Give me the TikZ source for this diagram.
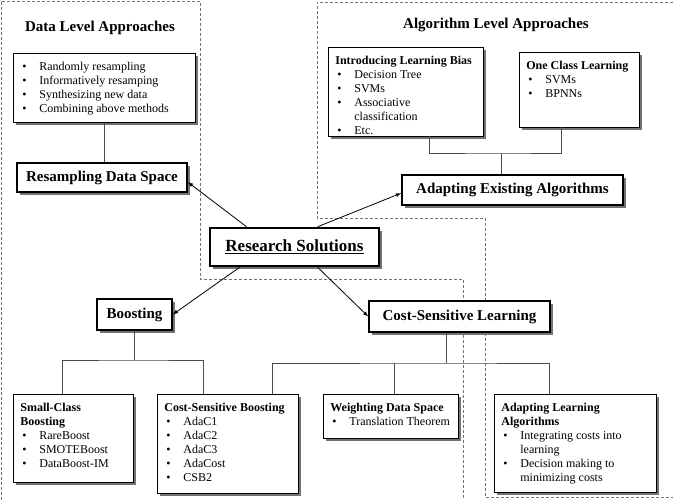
\documentclass[tikz,border=0pt]{standalone}
\usepackage{fontspec}
\setmainfont{Liberation Serif}
\usetikzlibrary{shadows,calc}

\newcommand{\itm}[1]{\par\hangindent=19pt\hangafter=1\noindent\makebox[19pt][l]{\hspace{2pt}\textbullet}#1}
\newcommand{\listtext}[3]{\parbox[t][#2][t]{#1}{\raggedright\vspace*{2.5pt}#3}}

\tikzset{
  shadowed/.style={drop shadow={shadow xshift=3pt, shadow yshift=-3pt, fill=black!55, opacity=1}},
  listbox/.style={draw, line width=0.8pt, fill=white, shadowed, anchor=north west,
    inner xsep=7pt, inner ysep=6pt, font=\fontsize{12}{14}\selectfont},
  mainbox/.style={draw, line width=1.6pt, fill=white, shadowed, inner sep=0pt,
    font=\bfseries\fontsize{15}{18}\selectfont},
  title/.style={font=\bfseries\fontsize{15}{18}\selectfont},
  region/.style={draw=black!55, line width=0.7pt, dash pattern=on 3pt off 2pt},
  branch/.style={draw=black!70, line width=0.7pt},
  link/.style={-latex, line width=0.8pt}
}

\begin{document}
\begin{tikzpicture}[x=1pt, y=-1pt]
    \useasboundingbox (0,0) rectangle (673,500);
    % dashed regions
    \draw[region] (1,500) -- (1,1) -- (200,1) -- (200,279) -- (463,279) -- (463,500);
    \draw[region] (673,2) -- (317,2) -- (317,218) -- (485,218) -- (485,497) -- (673,497);
    \node[title] (dlatitle) at (100,28) {Data Level Approaches};
    \node[title] (alatitle) at (496,25) {Algorithm Level Approaches};

    % data level
    \node[listbox] (rnd) at (13,53) {\listtext{168pt}{57pt}{%
        \itm{Randomly resampling}\itm{Informatively resamping}%
        \itm{Synthesizing new data}\itm{Combining above methods}}};
    \node[mainbox, minimum width=170, minimum height=29] (rds) at (102,177.5) {Resampling Data Space};

    % algorithm level
    \node[listbox] (ilb) at (328,47) {\listtext{141pt}{77pt}{%
        \textbf{Introducing Learning Bias}\itm{Decision Tree}\itm{SVMs}%
        \itm{Associative\newline classification}\itm{Etc.}}};
    \node[listbox] (ocl) at (519,52) {\listtext{106pt}{63pt}{%
        \textbf{One Class Learning}\itm{SVMs}\itm{BPNNs}}};
    \node[mainbox, minimum width=221, minimum height=30] (aea) at (512.5,190) {Adapting Existing Algorithms};

    % centre
    \node[mainbox, line width=2.6pt, minimum width=169, minimum height=38,
      font=\bfseries\fontsize{17}{20}\selectfont] (rs) at (294.5,247) {\underline{Research Solutions}};

    % boosting and cost-sensitive
    \node[mainbox, minimum width=75, minimum height=31] (bst) at (134.5,314.5) {Boosting};
    \node[mainbox, minimum width=181, minimum height=31] (csl) at (459.5,316.5) {Cost-Sensitive Learning};

    \node[listbox] (scb) at (13,394) {\listtext{106pt}{76pt}{%
        \textbf{Small-Class\\Boosting}\itm{RareBoost}\itm{SMOTEBoost}\itm{DataBoost-IM}}};
    \node[listbox] (csb) at (157,394) {\listtext{127pt}{87pt}{%
        \textbf{Cost-Sensitive Boosting}\itm{AdaC1}\itm{AdaC2}\itm{AdaC3}\itm{AdaCost}\itm{CSB2}}};
    \node[listbox] (wds) at (323,394) {\listtext{121pt}{32pt}{%
        \textbf{Weighting Data Space}\itm{\mbox{Translation Theorem}}}};
    \node[listbox] (ala) at (494,394) {\listtext{148pt}{86pt}{%
        \textbf{Adapting Learning\\Algorithms}\itm{Integrating costs into\newline learning}%
        \itm{Decision making to\newline minimizing costs}}};

    % tree connectors
    \draw[branch] (rnd.south) -- (rnd.south |- rds.north);

    \coordinate (ajoin) at (501,153);
    \coordinate (ilbdrop) at (429,136);
    \coordinate (ocldrop) at (561,127);
    \draw[branch] (ilbdrop) |- (ajoin) -| (ocldrop);
    \draw[branch] (ajoin) -- (ajoin |- aea.north);

    \coordinate (bjoin) at (134.5,360);
    \coordinate (scbdrop) at (62,394);
    \coordinate (csbdrop) at (203,394);
    \draw[branch] (bst.south) -- (bjoin);
    \draw[branch] (scbdrop) |- (bjoin) -| (csbdrop);

    \coordinate (cjoin) at (446,363);
    \coordinate (csbtop) at (272,394);
    \coordinate (wdstop) at (394,394);
    \coordinate (alatop) at (549,394);
    \draw[branch] (cjoin |- csl.south) -- (cjoin);
    \draw[branch] (csbtop) |- (cjoin) -| (alatop);
    \draw[branch] (wdstop) -- (wdstop |- cjoin);

    % arrows from the centre
    \draw[link] ($(rs.north west)!.22!(rs.north east)$) -- ($(rds.north east)!.65!(rds.south east)$);
    \draw[link] ($(rs.north west)!.635!(rs.north east)$) -- ($(aea.north west)!.6!(aea.south west)$);
    \draw[link] ($(rs.south west)!.18!(rs.south east)$) -- (bst.east);
    \draw[link] ($(rs.south west)!.635!(rs.south east)$) -- (csl.west);
\end{tikzpicture}
\end{document}
